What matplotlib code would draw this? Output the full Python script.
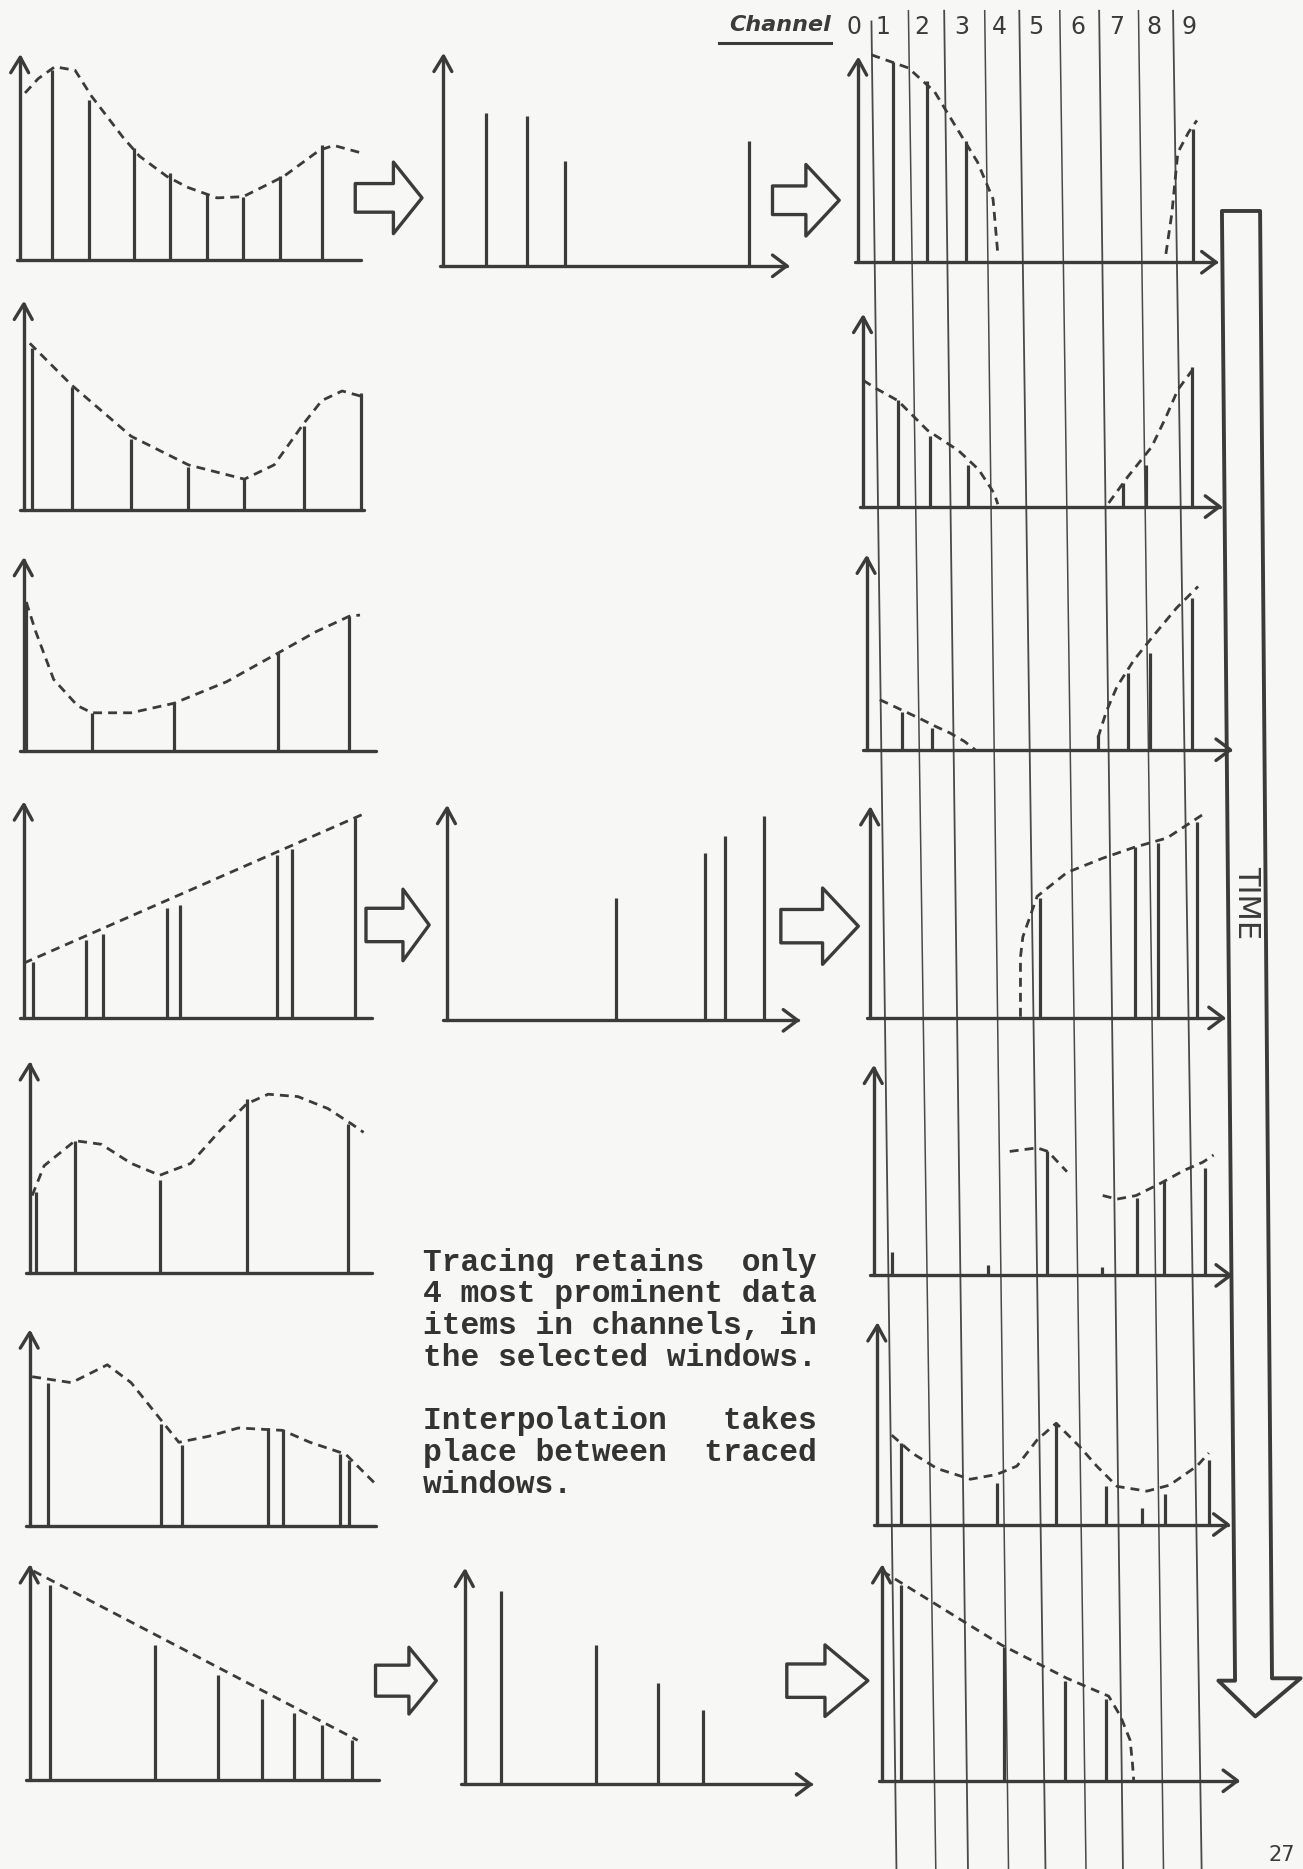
import matplotlib.pyplot as plt
from matplotlib.patches import Polygon

# layout units: the reference picture scaled to 1093 x 1568, y grows downwards
W, H = 1093, 1568
INK = '#3b3b3b'
PAPER = '#f7f7f5'
AX_LW = 2.4
STEM_LW = 2.3
DASH = (0, (3.2, 2.2))

# ---- left column: the original data windows (stem x, stem height, dashed envelope)
src1_x = [27, 58, 95, 126, 157, 187, 218, 253]
src1_h = [159, 134, 94, 73, 55, 53, 70, 96]
src1_cx = [4, 15, 29, 46, 60, 86, 100, 123, 140, 165, 187, 221, 251, 263, 285]
src1_cy = [140, 152, 162, 159, 137, 103, 87, 70, 61, 52, 53, 70, 92, 96, 90]

src2_x = [7, 40, 90, 138, 185, 235, 283]
src2_h = [136, 103, 60, 36, 26, 71, 98]
src2_cx = [5, 40, 90, 138, 185, 210, 235, 250, 267, 285]
src2_cy = [140, 105, 62, 38, 26, 38, 73, 92, 100, 95]

src3_x = [2, 57, 126, 213, 273]
src3_h = [125, 32, 40, 82, 113]
src3_cx = [2, 10, 25, 45, 57, 90, 126, 170, 213, 245, 273, 282]
src3_cy = [125, 100, 60, 38, 32, 32, 40, 58, 82, 100, 113, 114]

src4_x = [8, 52, 66, 120, 131, 212, 225, 278]
src4_h = [47, 65, 70, 92, 95, 137, 142, 168]
src4_cx = [0, 287]
src4_cy = [46, 172]

src5_x = [5, 38, 109, 182, 267]
src5_h = [68, 111, 78, 146, 125]
src5_cx = [2, 12, 38, 60, 85, 109, 135, 160, 182, 200, 225, 250, 270, 280]
src5_cy = [65, 90, 111, 108, 92, 82, 92, 120, 142, 150, 148, 138, 125, 118]

src6_x = [15, 110, 128, 200, 212, 260, 268]
src6_h = [120, 85, 68, 82, 80, 60, 55]
src6_cx = [2, 35, 65, 85, 105, 125, 150, 175, 212, 235, 265, 290]
src6_cy = [125, 120, 135, 120, 95, 70, 75, 82, 80, 70, 60, 35]

src7_x = [17, 105, 158, 195, 222, 245, 270]
src7_h = [163, 113, 88, 68, 56, 46, 33]
src7_cx = [3, 275]
src7_cy = [175, 33]

# ---- middle column: the 4 most prominent items of the selected windows
sel1_x = [36, 70, 102, 256]
sel1_h = [128, 126, 88, 105]
sel4_x = [142, 216, 233, 266]
sel4_h = [103, 140, 155, 171]
sel7_x = [30, 110, 162, 200]
sel7_h = [162, 117, 85, 62]

# ---- right column: traced + interpolated windows
trc1_x = [29, 58, 90, 281]
trc1_h = [168, 152, 102, 112]
trc1_curves = [([11, 42, 64, 81, 100, 113, 117], [174, 163, 143, 115, 84, 53, 7]),
               ([258, 263, 268, 277, 284], [7, 41, 92, 109, 119])]

trc2_x = [29, 56, 88, 218, 237, 276]
trc2_h = [89, 59, 35, 20, 35, 117]
trc2_curves = [([0, 11, 29, 54, 80, 97, 110, 113], [106, 99, 89, 64, 47, 31, 11, 2]),
               ([206, 222, 242, 254, 264, 278], [3, 25, 50, 75, 98, 117])]

trc3_x = [30, 55, 194, 219, 238, 273]
trc3_h = [32, 18, 12, 64, 81, 127]
trc3_curves = [([11, 45, 59, 70, 82, 91], [42, 26, 19, 14, 7, 0]),
               ([194, 201, 210, 224, 240, 260, 278], [10, 32, 53, 75, 95, 119, 137])]

trc4_x = [142, 222, 241, 274]
trc4_h = [101, 143, 147, 164]
trc4_curves = [([126, 126, 128, 140, 165, 195, 221, 249, 281], [1, 51, 68, 102, 122, 134, 143, 151, 172])]

trc5_x = [15, 96, 145, 191, 221, 243, 278]
trc5_h = [20, 9, 104, 7, 65, 79, 90]
trc5_curves = [([114, 137, 146, 162], [104, 107, 104, 87]),
               ([192, 204, 220, 240, 260, 276, 285], [67, 64, 67, 77, 88, 95, 101])]

trc6_x = [20, 100, 150, 192, 222, 241, 278]
trc6_h = [68, 35, 84, 32, 14, 26, 54]
trc6_curves = [([12, 29, 50, 78, 100, 117, 134, 150, 170, 184, 201, 226, 245, 268, 278],
                [75, 60, 47, 38, 42, 49, 71, 85, 65, 49, 32, 28, 33, 49, 60])]

trc7_x = [16, 102, 153, 188]
trc7_h = [164, 112, 84, 69]
trc7_curves = [([0, 100, 155, 190, 200, 208, 210, 211], [176, 114, 86, 71, 54, 34, 14, 0])]

channels = ['0', '1', '2', '3', '4', '5', '6', '7', '8', '9']
note_lines = ["Tracing retains  only",
              "4 most prominent data",
              "items in channels, in",
              "the selected windows.",
              "",
              "Interpolation   takes",
              "place between  traced",
              "windows."]

fig = plt.figure(figsize=(13.03, 18.69), dpi=100, facecolor=PAPER)
bg = fig.add_axes([0, 0, 1, 1])
bg.set_xlim(0, W)
bg.set_ylim(H, 0)
bg.axis('off')


def panel(x0, base, w, h, xarrow, stems_x, stems_h, curves):
    ax = fig.add_axes([x0 / W, 1 - base / H, w / W, h / H])
    ax.set_xlim(0, w)
    ax.set_ylim(0, h)
    ax.axis('off')
    kw = dict(color=INK, lw=AX_LW, clip_on=False, solid_capstyle='round', solid_joinstyle='round')
    ax.plot([0, 0], [0, h], **kw)
    ax.plot([-8, 0, 7], [h - 13, h, h - 13], **kw)
    ax.plot([-3, w], [0, 0], **kw)
    if xarrow:
        ax.plot([w - 12, w, w - 12], [9, 0, -9], **kw)
    ax.vlines(stems_x, 0, stems_h, color=INK, lw=STEM_LW, clip_on=False)
    for cx, cy in curves:
        ax.plot(cx, cy, color=INK, lw=2.0, ls=DASH, clip_on=False)
    return ax


# channel boundaries running down through the traced windows
ch_top_x = [731, 762, 792, 826, 855, 889, 922, 955, 984]
ch_bot_x = [752, 785, 812, 846, 877, 911, 942, 976, 1008]
for i, (xt, xb) in enumerate(zip(ch_top_x, ch_bot_x)):
    yt = 18 if i == 0 else 9
    bg.plot([xt, xb], [yt, H + 2], color='#4a4a4a', lw=1.3 if i % 2 == 0 else 1.1)

ch_lab_x = [716, 741, 773, 807, 838, 869, 904, 937, 968, 997]
for x, c in zip(ch_lab_x, channels):
    bg.text(x, 23, c, ha='center', va='center', fontsize=17, color=INK, family='DejaVu Sans')
bg.text(697, 21, 'Channel', ha='right', va='center', fontsize=16, color=INK,
        family='DejaVu Sans', style='italic', fontweight='bold')
bg.plot([603, 697], [36, 36], color=INK, lw=2.2)

# left column
panel(17, 218, 286, 170, False, src1_x, src1_h, [(src1_cx, src1_cy)])
panel(20, 428, 285, 173, False, src2_x, src2_h, [(src2_cx, src2_cy)])
panel(20, 630, 295, 160, False, src3_x, src3_h, [(src3_cx, src3_cy)])
panel(20, 854, 292, 179, False, src4_x, src4_h, [(src4_cx, src4_cy)])
panel(25, 1068, 287, 175, False, src5_x, src5_h, [(src5_cx, src5_cy)])
panel(25, 1280, 290, 162, False, src6_x, src6_h, [(src6_cx, src6_cy)])
panel(25, 1493, 293, 178, False, src7_x, src7_h, [(src7_cx, src7_cy)])

# middle column
panel(372, 223, 288, 176, True, sel1_x, sel1_h, [])
panel(375, 856, 294, 178, True, sel4_x, sel4_h, [])
panel(390, 1497, 290, 179, True, sel7_x, sel7_h, [])

# right column
panel(720, 220, 300, 170, True, trc1_x, trc1_h, trc1_curves)
panel(724, 425, 299, 159, True, trc2_x, trc2_h, trc2_curves)
panel(727, 629, 305, 161, True, trc3_x, trc3_h, trc3_curves)
panel(730, 854, 296, 175, True, trc4_x, trc4_h, trc4_curves)
panel(733, 1070, 299, 174, True, trc5_x, trc5_h, trc5_curves)
panel(736, 1279, 294, 167, True, trc6_x, trc6_h, trc6_curves)
panel(740, 1494, 298, 179, True, trc7_x, trc7_h, trc7_curves)

# hollow "=>" arrows between columns
hollow = [(298, 330, 354, 166, 12, 30), (648, 676, 704, 168, 12, 30),
          (307, 338, 360, 776, 14, 30), (655, 690, 720, 777, 14, 32),
          (315, 343, 366, 1410, 13, 28), (660, 692, 728, 1410, 14, 30)]
for xl, xh, xt, yc, bh, hh in hollow:
    pts = [(xl, yc - bh), (xh, yc - bh), (xh, yc - hh), (xt, yc), (xh, yc + hh),
           (xh, yc + bh), (xl, yc + bh)]
    bg.add_patch(Polygon(pts, closed=True, fc=PAPER, ec=INK, lw=2.4, joinstyle='round'))

# TIME arrow
time_pts = [(1025, 177), (1057, 177), (1067, 1408), (1091, 1408), (1053, 1440),
            (1022, 1410), (1036, 1410)]
bg.add_patch(Polygon(time_pts, closed=True, fc=PAPER, ec=INK, lw=2.8, joinstyle='round'))
bg.text(1046, 757, 'TIME', rotation=-90, ha='center', va='center', fontsize=22,
        color=INK, family='DejaVu Sans')

# typed note
for i, line in enumerate(note_lines):
    bg.text(355, 1066 + i * 26.6, line, ha='left', va='baseline', fontsize=22.5,
            family='Liberation Mono', fontweight='bold', color='#333333')

# page number in the bottom corner
bg.text(1064, 1565, '27', ha='left', va='bottom', fontsize=15, color=INK, family='DejaVu Sans')

fig.savefig('out.png', dpi=100, facecolor=PAPER)
